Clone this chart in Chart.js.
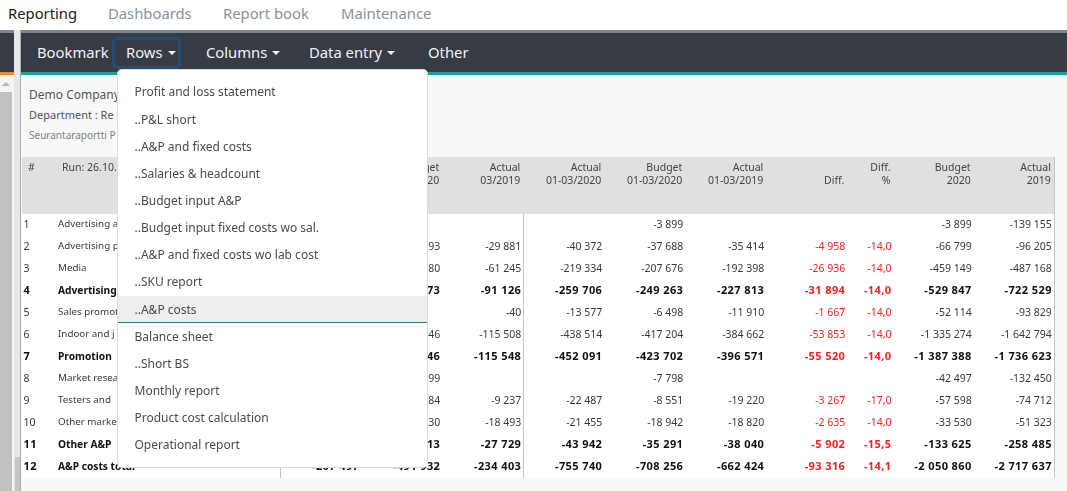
<!DOCTYPE html>
<html>
<head>
<meta charset="utf-8">
<script src="https://cdn.jsdelivr.net/npm/chart.js@4"></script>
<style>
    html, body { margin: 0; padding: 0; width: 1067px; height: 491px; overflow: hidden; background: #fff; }
    body { position: relative; font-family: "Noto Sans", sans-serif; }
    .abs { position: absolute; white-space: nowrap; }
    #topnav span { position: absolute; top: 2.5px; font-size: 14.8px; color: #8a929c; line-height: 20px; }
    #strip { left: 0; top: 30px; width: 1067px; height: 3px; background: #77868f; }
    #navbar { left: 0; top: 33px; width: 1067px; height: 39px; background: #363b44; }
    #navbar span { position: absolute; top: 9px; font-size: 14.8px; color: #f2f3f4; line-height: 20px; }
    .caret { display: inline-block; width: 0; height: 0; margin-left: 5px; vertical-align: 3px;
             border-left: 4.5px solid transparent; border-right: 4.5px solid transparent; border-top: 4.5px solid #f2f3f4; }
    #rowsFocus { left: 112px; top: 37px; width: 63px; height: 26px; border: 3px solid #234d78; border-radius: 5px; }
    #teal { left: 20px; top: 72px; width: 1047px; height: 3px; background: #0ea79b; }
    #orange { left: 0; top: 72px; width: 14px; height: 3px; background: #f09020; }
    #content { left: 21px; top: 75px; width: 1046px; height: 416px; background: #f7f8fa; }
    #sideBar { left: 0; top: 75px; width: 14px; height: 416px; background: #f5f5f5; }
    #sideThumb { left: 0; top: 92px; width: 12px; height: 399px; background: #c1c1c1; }
    #sideArrow { left: 2px; top: 82px; width: 0; height: 0; border-left: 4px solid transparent; border-right: 4px solid transparent; border-bottom: 4px solid #b5b5b5; }
    #sideGap { left: 14px; top: 30px; width: 7px; height: 461px; background: #e6e7e8; border-right: 1px solid #a9adb0; box-sizing: border-box; }
    #sideGapLow { left: 15px; top: 457px; width: 5px; height: 34px; background: #c4c4c4; }
    .head { color: #555; }
    #chartWrap { left: 22px; top: 157px; width: 1033px; height: 321px; }
    #menu { left: 118px; top: 70px; width: 309px; height: 397px; background: #fff; border-radius: 4px;
            box-shadow: 0 0 0 1px #dcdcdc; }
    #menu div { position: absolute; left: 0; width: 309px; height: 27px; line-height: 27px; padding-left: 16.5px;
                box-sizing: border-box; font-size: 12px; color: #4a4a4a; }
    #menu div.active { background: #eeeeee; border-bottom: 1px solid #2f7d8c; }
</style>
</head>
<body>
<div class="abs" id="topnav" style="left:0;top:0;width:1067px;height:30px">
    <span style="left:8px;color:#222">Reporting</span>
    <span style="left:108px">Dashboards</span>
    <span style="left:223px">Report book</span>
    <span style="left:341px">Maintenance</span>
</div>
<div class="abs" id="strip"></div>
<div class="abs" id="navbar">
    <span style="left:37px">Bookmark</span>
    <span style="left:126px">Rows<i class="caret"></i></span>
    <span style="left:206px">Columns<i class="caret"></i></span>
    <span style="left:309px">Data entry<i class="caret"></i></span>
    <span style="left:428px">Other</span>
</div>
<div class="abs" id="rowsFocus"></div>
<div class="abs" id="orange"></div>
<div class="abs" id="teal"></div>
<div class="abs" id="sideBar"></div>
<div class="abs" id="sideArrow"></div>
<div class="abs" id="sideThumb"></div>
<div class="abs" id="sideGap"></div>
<div class="abs" id="sideGapLow"></div>
<div class="abs" id="content"></div>
<div class="abs head" style="left:29px;top:86px;font-size:12px">Demo Company</div>
<div class="abs head" style="left:29px;top:107px;font-size:11px">Department : Re</div>
<div class="abs" style="left:29px;top:127.5px;font-size:10px;color:#808080">Seurantaraportti P</div>
<div class="abs" id="chartWrap"><canvas id="reportChart" width="1033" height="321"></canvas></div>
<div class="abs" id="menu"></div>

<script>
// report columns: label lines, width in column units
const columns = [
    { head: ['#'], width: 0.426, align: 'left' },
    { head: ['Run: 26.10.'], width: 2.72, align: 'left', name: true },
    { head: ['', ''], width: 1 },
    { head: ['Budget', '03/2020'], width: 1 },
    { head: ['Actual', '03/2019'], width: 1 },
    { head: ['Actual', '01-03/2020'], width: 1 },
    { head: ['Budget', '01-03/2020'], width: 1 },
    { head: ['Actual', '01-03/2019'], width: 1 },
    { head: ['', 'Diff.'], width: 1, red: true },
    { head: ['Diff.', '%'], width: 0.57, red: true },
    { head: ['Budget', '2020'], width: 0.99 },
    { head: ['Actual', '2019'], width: 0.99 }
];

// rows (cells under the menu are left out or partial)
const rows = [
    ['1', 'Advertising a', '', '', '', '', '-3 899', '', '', '', '-3 899', '-139 155'],
    ['2', 'Advertising p', '', '-32 093', '-29 881', '-40 372', '-37 688', '-35 414', '-4 958', '-14,0', '-66 799', '-96 205'],
    ['3', 'Media', '', '-70 680', '-61 245', '-219 334', '-207 676', '-192 398', '-26 936', '-14,0', '-459 149', '-487 168'],
    ['4', 'Advertising', '', '-102 773', '-91 126', '-259 706', '-249 263', '-227 813', '-31 894', '-14,0', '-529 847', '-722 529', 'b'],
    ['5', 'Sales promot', '', '', '-40', '-13 577', '-6 498', '-11 910', '-1 667', '-14,0', '-52 114', '-93 829'],
    ['6', 'Indoor and j', '', '-139 146', '-115 508', '-438 514', '-417 204', '-384 662', '-53 853', '-14,0', '-1 335 274', '-1 642 794'],
    ['7', 'Promotion', '', '-139 146', '-115 548', '-452 091', '-423 702', '-396 571', '-55 520', '-14,0', '-1 387 388', '-1 736 623', 'b'],
    ['8', 'Market resea', '', '-3 899', '', '', '-7 798', '', '', '', '-42 497', '-132 450'],
    ['9', 'Testers and', '', '-4 084', '-9 237', '-22 487', '-8 551', '-19 220', '-3 267', '-17,0', '-57 598', '-74 712'],
    ['10', 'Other marke', '', '-6 130', '-18 493', '-21 455', '-18 942', '-18 820', '-2 635', '-14,0', '-33 530', '-51 323'],
    ['11', 'Other A&P', '', '-14 113', '-27 729', '-43 942', '-35 291', '-38 040', '-5 902', '-15,5', '-133 625', '-258 485', 'b'],
    ['12', 'A&P costs total', '-207 497', '-491 932', '-234 403', '-755 740', '-708 256', '-662 424', '-93 316', '-14,1', '-2 050 860', '-2 717 637', 'b']
];

const menuItems = [
    'Profit and loss statement', '..P&L short', '..A&P and fixed costs', '..Salaries & headcount',
    '..Budget input A&P', '..Budget input fixed costs wo sal.', '..A&P and fixed costs wo lab cost',
    '..SKU report', '..A&P costs', 'Balance sheet', '..Short BS', 'Monthly report',
    'Product cost calculation', 'Operational report'
];

const menu = document.getElementById('menu');
menuItems.forEach((item, i) => {
    const el = document.createElement('div');
    el.textContent = item;
    el.style.top = Math.round(8.4 + i * 27.15) + 'px';
    if (item === '..A&P costs') el.className = 'active';
    menu.appendChild(el);
});

// column right edges in column units
let edge = 0;
const colEnds = columns.map(c => (edge += c.width));
const colStarts = colEnds.map((e, i) => e - columns[i].width);

const cells = [];
rows.forEach((row, r) => {
    columns.forEach((col, c) => {
        if (row[c]) cells.push({ x: col.align === 'left' ? colStarts[c] : colEnds[c], y: r + 1.03, text: row[c], col: c, bold: row[12] === 'b' });
    });
});

const tablePlugin = {
    id: 'tablePlugin',
    beforeDatasetsDraw(chart) {
        const { ctx, scales: { x, y } } = chart;
        const bodyTop = y.getPixelForValue(0.545);
        const bodyBottom = y.getPixelForValue(12.545);
        ctx.save();
        // header band
        ctx.fillStyle = '#e0e0de';
        ctx.fillRect(x.left, 0, x.right - x.left, bodyTop);
        // row background
        ctx.fillStyle = '#fff';
        ctx.fillRect(x.left, bodyTop, x.right - x.left, bodyBottom - bodyTop);
        // separators
        ctx.fillStyle = '#c4c4c4';
        [colEnds[1], colEnds[4]].forEach(v => {
            ctx.fillRect(Math.round(x.getPixelForValue(v)) + 2, bodyTop, 1, bodyBottom - bodyTop);
        });
        ctx.fillRect(x.right - 1, 0, 2, bodyBottom);

        // header text
        ctx.font = '10.5px "Noto Sans"';
        ctx.fillStyle = '#444';
        ctx.textBaseline = 'middle';
        columns.forEach((col, c) => {
            col.head.forEach((line, l) => {
                if (!line) return;
                const left = col.align === 'left';
                ctx.textAlign = left ? 'left' : 'right';
                const px = left ? x.getPixelForValue(colStarts[c]) + (c === 0 ? 4.5 : 4) : x.getPixelForValue(colEnds[c]) - 1;
                ctx.fillText(line, px, y.getPixelForValue(-1.56 + l * 0.59));
            });
        });
        ctx.restore();
    },
    afterDatasetsDraw(chart) {
        const { ctx, scales: { x, y } } = chart;
        ctx.save();
        ctx.textBaseline = 'middle';
        cells.forEach(cell => {
            const col = columns[cell.col];
            const left = col.align === 'left';
            if (col.name) {
                // row names are set tighter than the numbers
                ctx.font = cell.bold ? 'bold 10.2px "Noto Sans"' : '9.8px "Noto Sans"';
                ctx.letterSpacing = '0px';
            } else {
                ctx.font = cell.bold ? 'bold 11px "Noto Sans"' : '10.5px "Noto Sans"';
                ctx.letterSpacing = cell.bold ? '0.4px' : '0px';
            }
            ctx.fillStyle = col.red ? '#ff1f1f' : (cell.bold ? '#111' : '#3a3a3a');
            ctx.textAlign = left ? 'left' : 'right';
            ctx.fillText(cell.text, x.getPixelForValue(cell.x), y.getPixelForValue(cell.y));
        });
        ctx.restore();
    }
};

Chart.defaults.animation = false;

new Chart(document.getElementById('reportChart'), {
    type: 'scatter',
    data: { datasets: [{ data: cells, pointRadius: 0, parsing: false }] },
    options: {
        responsive: false,
        maintainAspectRatio: false,
        layout: { padding: 0 },
        plugins: { legend: { display: false }, tooltip: { enabled: false } },
        scales: {
            x: { type: 'linear', min: -0.0185, max: 12.735, display: false },
            y: { type: 'linear', min: -2.045, max: 12.545, reverse: true, display: false }
        }
    },
    plugins: [tablePlugin]
});
</script>
</body>
</html>
